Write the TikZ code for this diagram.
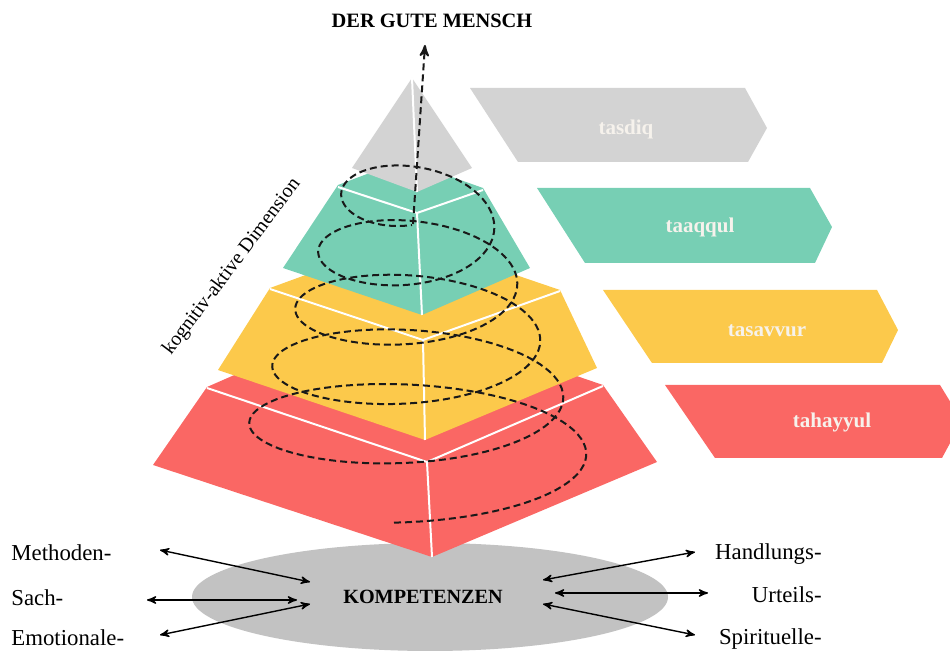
\documentclass[tikz,border=0pt]{standalone}
\usepackage{fontspec}
\setmainfont{Liberation Serif}
\usetikzlibrary{arrows,positioning}

\definecolor{stonegray}{HTML}{D3D3D3}
\definecolor{mintgreen}{HTML}{77CFB4}
\definecolor{sunyellow}{HTML}{FCC94B}
\definecolor{coralred}{HTML}{FA6764}
\definecolor{basegray}{HTML}{C2C2C2}
\definecolor{tagwhite}{HTML}{F6F2EC}

\begin{document}
\begin{tikzpicture}[x=0.5pt,y=-0.5pt,>=stealth',
        lbl/.style={font=\fontsize{11.4}{13}\selectfont,inner sep=0pt},
        tag/.style={font=\fontsize{10.5}{12}\selectfont\bfseries,text=tagwhite,inner sep=0pt},
        rib/.style={white,line width=1pt},
        spiral/.style={dash pattern=on 3.5pt off 2pt,line width=1pt,black!90},
        link/.style={<->,line width=0.7pt}]

    \useasboundingbox (0,0) rectangle (950,651);

    % base ellipse
    \fill[basegray] (430,597) ellipse [x radius=238, y radius=54];
    \node[font=\fontsize{10.1}{12}\selectfont\bfseries] (komp) at (423,597) {KOMPETENZEN};

    % pyramid, bottom to top
    \fill[coralred] (207,387) -- (383,310) -- (603,385) -- (657,462) -- (432,557) -- (153,465) -- cycle;
    \draw[rib] (207,388) -- (427,462) -- (603,386) (427,462) -- (432,557);
    \fill[sunyellow] (270,288) -- (407,238) -- (560,290) -- (597,368) -- (425,440) -- (218,370) -- cycle;
    \draw[rib] (270,289) -- (423,340) -- (560,291) (423,340) -- (425,440);
    \fill[mintgreen] (338,185) -- (404,160) -- (483,188) -- (530,268) -- (422,315) -- (283,268) -- cycle;
    \draw[rib] (338,187) -- (417,213) -- (483,190) (417,213) -- (422,315);
    \fill[stonegray] (412,78) -- (352,168) -- (417,192) -- (472,168) -- cycle;
    \draw[rib] (412,78) -- (417,192);

    % spiral and way up
    \draw[spiral] plot[domain=-0.1:31.416,samples=450,variable=\t]
        ({412+(180-115*\t/31.416)*sin(\t r)},{467-285*\t/31.416+(55-12*\t/31.416)*cos(\t r)});
    \coordinate (rise) at (413,224);
    \coordinate (aim) at (425,45);
    \draw[spiral,->] (rise) -- (aim);
    \node[font=\fontsize{10.2}{12}\selectfont\bfseries] (mensch) at (432,21) {DER GUTE MENSCH};

    \node[font=\fontsize{10}{12}\selectfont,rotate=53] (dim) at (232,267) {kognitiv-aktive Dimension};

    % level tags
    \fill[stonegray] (470,88) -- (745,88) -- (767,128) -- (748,162) -- (518,162) -- cycle;
    \node[tag] (tasdiq) at (626,129) {tasdiq};
    \fill[mintgreen] (537,188) -- (810,188) -- (832,227) -- (815,263) -- (585,263) -- cycle;
    \node[tag] (taaqqul) at (700,227) {taaqqul};
    \fill[sunyellow] (603,290) -- (877,290) -- (898,330) -- (882,363) -- (652,363) -- cycle;
    \node[tag] (tasavvur) at (767,331) {tasavvur};
    \fill[coralred] (665,385) -- (940,385) -- (962,421) -- (942,458) -- (715,458) -- cycle;
    \node[tag] (tahayyul) at (832,422) {tahayyul};

    % competences
    \node[lbl,anchor=base west] (meth) at (11,561) {Methoden-};
    \node[lbl,anchor=base west] (sach) at (11,606) {Sach-};
    \node[lbl,anchor=base west] (emo) at (11,646) {Emotionale-};
    \node[lbl,anchor=base east] (hand) at (822,560) {Handlungs-};
    \node[lbl,anchor=base east] (urt) at (822,603) {Urteils-};
    \node[lbl,anchor=base east] (spir) at (822,645) {Spirituelle-};

    \coordinate (m0) at (160,550); \coordinate (m1) at (310,582);
    \coordinate (s0) at (147,600); \coordinate (s1) at (297,600);
    \coordinate (e0) at (160,635); \coordinate (e1) at (310,604);
    \coordinate (h0) at (543,580); \coordinate (h1) at (695,552);
    \coordinate (u0) at (555,593); \coordinate (u1) at (708,593);
    \coordinate (p0) at (543,604); \coordinate (p1) at (695,635);
    \draw[link] (m0) -- (m1);
    \draw[link] (s0) -- (s1);
    \draw[link] (e0) -- (e1);
    \draw[link] (h0) -- (h1);
    \draw[link] (u0) -- (u1);
    \draw[link] (p0) -- (p1);
\end{tikzpicture}
\end{document}
